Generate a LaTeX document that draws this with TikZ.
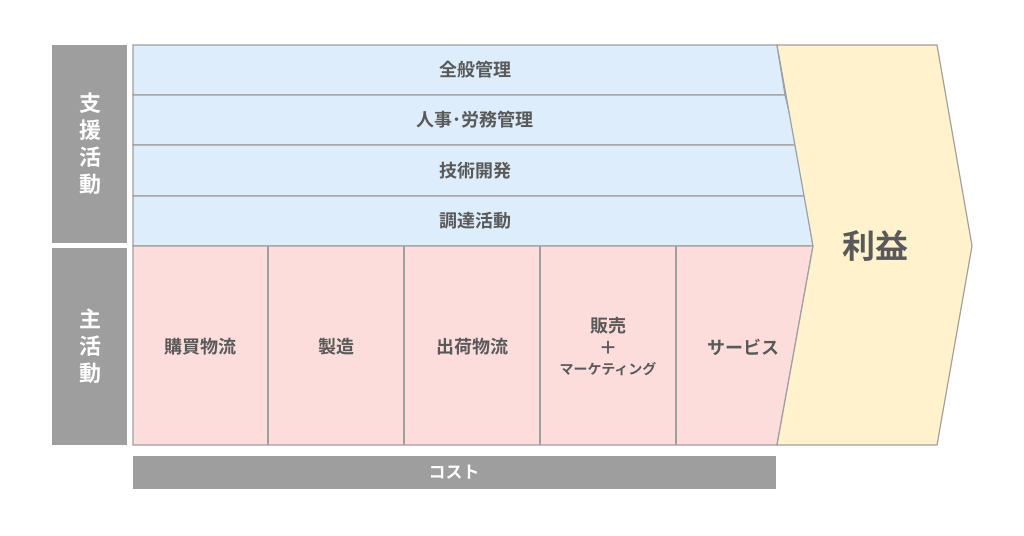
\documentclass[tikz,border=0pt]{standalone}
\usepackage{fontspec}
\newfontfamily\jp{Noto Sans CJK JP}[BoldFont={* Bold}]
\definecolor{bord}{HTML}{A0A0A0}
\definecolor{lab}{HTML}{9E9E9E}
\definecolor{sup}{HTML}{DDEDFB}
\definecolor{prim}{HTML}{FDDCDC}
\definecolor{prof}{HTML}{FFF2CD}
\definecolor{txt}{HTML}{595959}
\tikzset{
  cell/.style={draw=bord, line width=1.2pt},
  lbl/.style={font=\jp\bfseries\fontsize{18}{21}\selectfont, text=txt, inner sep=0pt},
  side/.style={font=\jp\bfseries\fontsize{22}{27}\selectfont, text=white, align=center, inner sep=0pt},
}
\begin{document}
\begin{tikzpicture}[x=1pt,y=-1pt]
\useasboundingbox (0,0) rectangle (1024,535);
% side labels
\fill[lab] (52,45) rectangle (127,243);
\fill[lab] (52,248) rectangle (127,445);
\node[side] (sl) at (90,144) {支\\援\\活\\動};
\node[side] (pl) at (90,346) {主\\活\\動};
% support rows
\filldraw[cell, fill=sup] (133,45) -- (777,45) -- (785,95) -- (133,95) -- cycle;
\filldraw[cell, fill=sup] (133,95) -- (785,95) -- (797,145) -- (133,145) -- cycle;
\filldraw[cell, fill=sup] (133,145) -- (797,145) -- (805,196) -- (133,196) -- cycle;
\filldraw[cell, fill=sup] (133,196) -- (805,196) -- (813,246) -- (133,246) -- cycle;
% primary row
\filldraw[cell, fill=prim] (133,246) -- (813,246) -- (777,445) -- (133,445) -- cycle;
\foreach \x in {268,404,540,676} \draw[cell] (\x,246) -- (\x,445);
% profit
\filldraw[cell, fill=prof] (777,45) -- (937,45) -- (972,246) -- (937,445) -- (777,445) -- (813,246) -- cycle;
\node[font=\jp\bfseries\fontsize{33}{35}\selectfont, text=txt, inner sep=0pt] (pr) at (875,246) {利益};
% texts
\node[lbl] (r1) at (475,70) {全般管理};
\node[lbl] (r2) at (475,120) {人事･労務管理};
\node[lbl] (r3) at (475,171) {技術開発};
\node[lbl] (r4) at (475,221) {調達活動};
\node[lbl] (c1) at (200,347) {購買物流};
\node[lbl] (c2) at (336,347) {製造};
\node[lbl] (c3) at (472,347) {出荷物流};
\node[lbl] (c4a) at (608,326) {販売};
\node[lbl] (c4b) at (608,348) {＋};
\node[lbl, font=\jp\bfseries\fontsize{14}{16}\selectfont] (c4c) at (608,369) {マーケティング};
\node[lbl] (c5) at (743,347) {サービス};
% cost
\fill[lab] (133,456) rectangle (776,489);
\node[lbl, text=white, font=\jp\bfseries\fontsize{17}{20}\selectfont] (cost) at (454,472) {コスト};
\end{tikzpicture}
\end{document}
